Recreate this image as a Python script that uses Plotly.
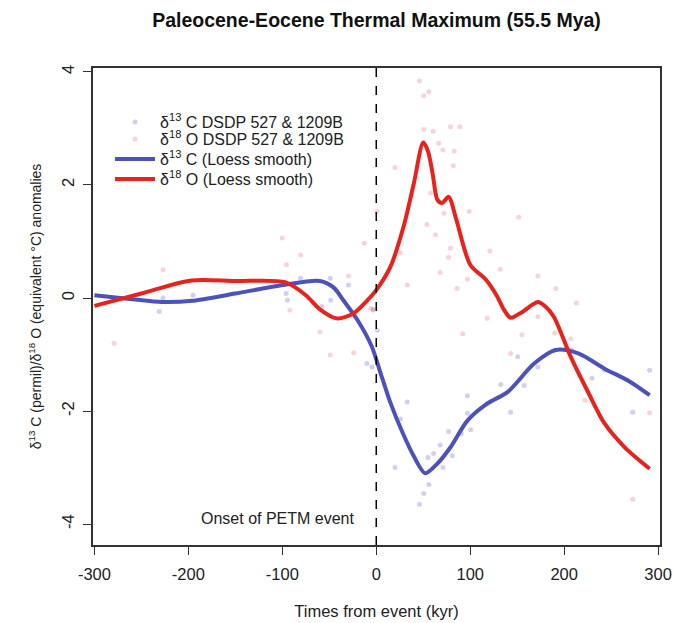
import plotly.graph_objects as go

# --- data ---
c13_pts_x = [-231, -227, -195, -96, -94.5, -80.5, -58, -49, -48.5, -29.6, -10, -3.5, 1, -4.6,
             20, 25.7, 33, 46, 50.6, 56, 55, 61, 68, 71, 77, 81, 90.5, 97, 97, 100.5, 118,
             132.6, 143, 150.5, 157.5, 172, 190, 207.5, 229.6, 243, 273, 291]
c13_pts_y = [-0.24, 0.0, 0.05, 0.08, -0.04, 0.35, -0.15, 0.35, -0.04, 0.23, -1.16, -0.21, -0.57, -1.22,
             -3.0, -2.14, -1.84, -3.65, -3.46, -3.3, -2.82, -2.75, -2.6, -3.0, -2.36, -2.79, -2.4, -1.73, -2.04, -2.33, -1.87,
             -1.53, -2.02, -1.04, -1.55, -1.22, -0.92, -0.92, -1.42, -1.28, -2.02, -1.28]

o18_pts_x = [-279, -227, -100, -95.5, -92, -80.5, -60, -49, -29.6, -24, -12.8, -6, -3, 1,
             20, 25.7, 33, 46, 50.6, 56, 50.6, 60.6, 79, 89, 66.6, 71, 83, 82, 58, 72, 99,
             54, 63, 79, 77, 68, 97, 86, 121, 132, 151.5, 172, 191, 213, 118, 92, 155, 143,
             172, 190, 207, 222, 291, 273]
o18_pts_y = [-0.8, 0.5, 1.06, 0.59, -0.21, 0.76, -0.6, -1.01, 0.39, -0.97, 0.97, -0.18, -0.2, 1.53,
             2.31, 0.8, 0.23, 3.84, 3.58, 3.65, 2.98, 2.95, 3.03, 3.03, 2.74, 2.62, 2.6, 2.34, 1.86, 1.5, 1.53,
             1.3, 1.12, 0.88, 0.72, 0.45, 0.33, 0.17, 0.83, 0.51, 1.43, 0.39, 0.17, -0.09, -0.36, -0.63, -0.65, -0.98,
             -0.33, -0.62, -0.72, -1.81, -2.03, -3.56]

c13_smooth_x = [-300, -260, -228, -196, -150, -99, -60, -45, -35, -20, -5, 5, 15, 29, 40, 52,
                65, 79, 97, 118, 140, 168, 191, 215, 243, 270, 291]
c13_smooth_y = [0.05, -0.02, -0.07, -0.05, 0.08, 0.23, 0.30, 0.18, -0.04, -0.39, -0.85, -1.35, -1.85,
                -2.42, -2.8, -3.1, -2.93, -2.64, -2.17, -1.87, -1.66, -1.16, -0.92, -0.98, -1.25, -1.48, -1.72]

o18_smooth_x = [-300, -250, -197, -150, -97, -75, -60, -42, -25, -10, 0, 15, 29, 40, 50, 55, 60,
                65, 70, 77, 85, 100, 117, 128, 136, 143, 155, 172, 180, 189, 207, 225, 243, 265, 291]
o18_smooth_y = [-0.14, 0.08, 0.31, 0.3, 0.28, 0.05, -0.2, -0.36, -0.28, -0.05, 0.14, 0.55, 1.26, 2.03,
                2.75, 2.6, 2.2, 1.74, 1.68, 1.79, 1.4, 0.59, 0.32, 0.05, -0.21, -0.35, -0.25, -0.07, -0.15,
                -0.33, -1.04, -1.65, -2.22, -2.65, -3.02]

x_ticks = [-300, -200, -100, 0, 100, 200, 300]
y_ticks = [-4, -2, 0, 2, 4]

FONT = "Liberation Sans, Arial, sans-serif"
BLUE = "#4b52bd"
RED = "#e8231c"

fig = go.Figure()
fig.add_trace(go.Scatter(x=c13_pts_x, y=c13_pts_y, mode="markers",
                         marker=dict(size=5, color="rgba(110,110,210,0.32)"),
                         name="δ<sup>13</sup> C DSDP 527 & 1209B", legend="legend"))
fig.add_trace(go.Scatter(x=o18_pts_x, y=o18_pts_y, mode="markers",
                         marker=dict(size=5, color="rgba(230,120,130,0.32)"),
                         name="δ<sup>18</sup> O DSDP 527 & 1209B", legend="legend2"))
fig.add_trace(go.Scatter(x=c13_smooth_x, y=c13_smooth_y, mode="lines",
                         line=dict(color=BLUE, width=4, shape="spline", smoothing=0.8),
                         name="δ<sup>13</sup> C (Loess smooth)", legend="legend3"))
fig.add_trace(go.Scatter(x=o18_smooth_x, y=o18_smooth_y, mode="lines",
                         line=dict(color=RED, width=4, shape="spline", smoothing=0.8),
                         name="δ<sup>18</sup> O (Loess smooth)", legend="legend4"))

fig.add_shape(type="line", x0=0, x1=0, xref="x", y0=0, y1=1, yref="paper",
              line=dict(color="black", width=1.5, dash="dash"))
fig.add_annotation(x=-20, y=-3.9, xref="x", yref="y", text="Onset of PETM event",
                   showarrow=False, xanchor="right", yanchor="middle",
                   font=dict(size=16, color="#222", family=FONT))

TOP, BOT = 68, 545


def leg(py):
    return dict(x=0.03, y=1 - (py - TOP) / (BOT - TOP), xanchor="left", yanchor="middle",
                bgcolor="rgba(0,0,0,0)", font=dict(size=16, family=FONT, color="#222"),
                itemwidth=40)


fig.update_layout(
    width=673, height=623,
    margin=dict(l=93, r=13, t=TOP, b=623 - BOT, autoexpand=False),
    paper_bgcolor="white", plot_bgcolor="white",
    font=dict(family=FONT, size=16, color="#222"),
    title=dict(text="<b>Paleocene-Eocene Thermal Maximum (55.5 Mya)</b>",
               x=(93 + 660) / 2 / 673, xanchor="center", y=1 - 20 / 623, yanchor="middle",
               font=dict(size=19.5, family=FONT, color="#111")),
    showlegend=True,
    legend=leg(122), legend2=leg(139), legend3=leg(159), legend4=leg(179),
    xaxis=dict(range=[-301.5, 302], tickvals=x_ticks, ticktext=[str(v) for v in x_ticks],
               automargin=False,
               showgrid=False, zeroline=False, showline=True, linecolor="#333", linewidth=1.5,
               mirror=True, ticks="outside", ticklen=8, tickwidth=1.2, tickcolor="#333",
               tickfont=dict(size=16.5), ticklabelstandoff=5,
               title=dict(text="Times from event (kyr)", standoff=24, font=dict(size=16.5))),
    yaxis=dict(range=[-4.37, 4.07], tickvals=y_ticks, ticktext=[str(v) for v in y_ticks],
               tickangle=-90, automargin=False,
               showgrid=False, zeroline=False, showline=True, linecolor="#333", linewidth=1.5,
               mirror=True, ticks="outside", ticklen=8, tickwidth=1.2, tickcolor="#333",
               tickfont=dict(size=16.5), ticklabelstandoff=3,
               title=dict(text="δ<sup>13</sup> C (permil)/δ<sup>18</sup> O (equivalent °C) anomalies",
                          standoff=14, font=dict(size=14))),
)

fig.write_html("out.html")
